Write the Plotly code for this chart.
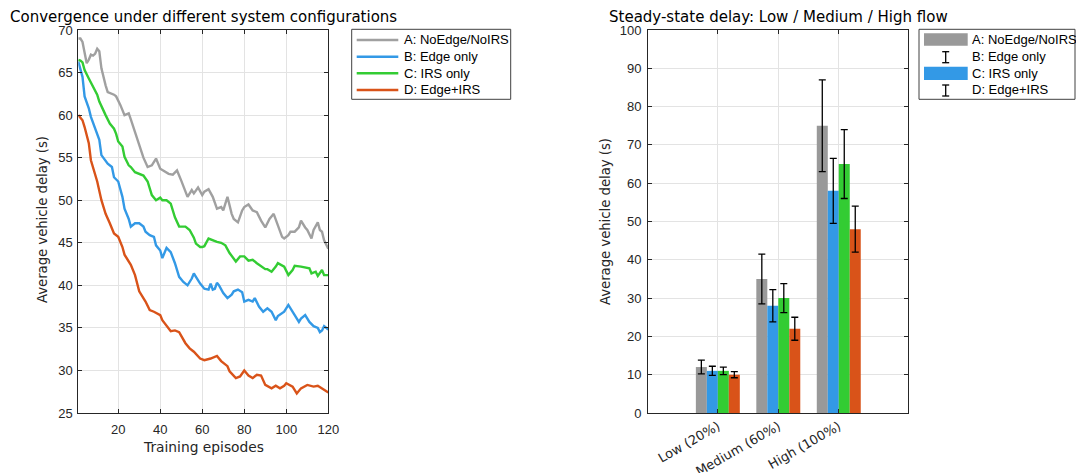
import plotly.graph_objects as go

W, H = 1076, 473

# ---------------- data: convergence curves ----------------
ep_A = [1,2,3,4,5,6,7,8,9,10,11,12,13,14,15,16,18,19,21,23,25,26,28,30,32,34,36,38,40,42,44,46,48,50,52,53,55,56,58,60,61,63,65,67,69,70,72,74,75,77,79,80,82,84,86,88,90,92,94,96,98,99,101,102,104,106,107,109,110,112,113,115,116,117,118,120]
val_A = [69.0,69.0,68.6,67.2,66.1,66.5,67.1,67.0,67.2,67.8,67.5,65.5,64.3,63.5,62.7,62.6,62.4,62.2,61.2,60.0,60.2,59.5,58.1,56.5,55.0,53.9,54.1,54.9,53.7,53.4,53.1,53.0,53.5,52.3,51.0,50.4,51.2,50.8,51.5,50.6,51.0,51.3,50.4,49.0,49.2,48.8,50.4,48.4,47.8,47.4,48.8,49.2,49.5,48.8,48.6,47.6,46.8,47.8,48.4,47.0,45.7,45.5,45.9,46.3,46.3,46.8,47.6,46.8,46.5,45.5,46.5,47.4,46.5,46.3,45.3,44.3]

ep_B = [1,2,3,4,5,6,7,9,11,12,14,15,17,18,20,22,23,25,26,28,30,32,33,35,37,38,40,41,43,45,47,49,51,53,55,56,57,59,61,63,64,65,66,67,68,70,72,74,75,77,79,80,82,84,85,87,89,91,93,95,96,98,99,101,103,104,106,107,109,111,113,115,116,117,118,120]
val_B = [66.3,65.5,64.5,62.2,61.5,60.8,59.8,58.4,57.1,55.3,54.7,54.3,53.9,52.7,52.2,50.4,49.0,47.8,46.9,47.3,47.3,46.9,46.3,45.9,45.7,44.7,44.1,43.2,44.4,43.9,42.6,41.0,40.4,40.0,40.8,41.4,41.0,40.2,39.6,39.5,40.2,39.5,39.6,40.3,40.0,39.1,38.5,38.9,39.3,39.5,39.2,38.1,38.3,38.1,38.5,37.5,36.9,37.3,36.9,35.9,36.4,36.7,36.9,37.7,36.8,36.5,35.7,36.1,36.5,35.7,35.2,35.0,34.5,34.7,35.2,34.8]

ep_C = [1,2,3,4,6,8,10,11,12,14,16,18,19,20,22,23,25,26,28,30,32,34,36,38,40,41,43,45,47,49,52,54,56,57,59,60,61,63,65,67,69,71,73,75,76,78,80,82,84,86,88,90,91,93,95,96,99,101,103,104,107,109,111,112,114,115,117,118,120]
val_C = [66.5,66.4,66.2,65.3,64.3,63.3,62.4,61.6,61.0,60.0,59.0,58.4,57.8,56.9,56.3,55.1,54.1,53.9,53.3,53.1,52.9,52.2,50.6,50.0,50.3,50.0,50.0,49.6,48.0,46.9,46.9,46.5,45.6,44.9,44.5,44.5,44.6,45.5,45.3,45.1,45.0,44.7,43.8,43.2,42.8,43.4,43.4,42.9,43.0,42.6,42.2,41.9,41.9,41.6,42.2,42.6,42.2,41.2,41.8,42.3,42.2,42.1,42.0,41.4,41.6,41.1,41.8,41.2,41.2]

ep_D = [1,3,4,6,7,10,12,14,16,18,20,22,23,26,28,30,33,35,37,40,41,43,45,47,49,52,54,56,59,61,64,67,69,72,73,76,78,80,82,84,86,88,90,93,95,97,99,100,103,105,107,110,113,115,118,120]
val_D = [60.0,59.4,58.6,56.7,54.7,52.2,50.0,48.4,47.3,46.1,45.7,44.5,43.6,42.4,41.2,39.3,38.1,37.1,36.9,36.5,35.9,35.2,34.6,34.7,34.5,33.2,32.6,32.2,31.4,31.2,31.4,31.7,31.1,30.5,29.9,29.1,29.3,30.0,29.4,29.1,29.5,29.4,28.3,27.9,28.2,27.9,28.2,28.5,28.1,27.3,27.9,28.3,28.1,28.2,27.7,27.4]

series_names = ["A: NoEdge/NoIRS", "B: Edge only", "C: IRS only", "D: Edge+IRS"]
line_colors = ["#a0a0a0", "#3399e6", "#33cc33", "#d95319"]
bar_colors = ["#999999", "#3399e6", "#33cc33", "#d95319"]

# ---------------- data: steady-state bars ----------------
flow_pos = [1, 2, 3]
flow_labels = ["Low (20%)", "Medium (60%)", "High (100%)"]
bar_A = [12, 35, 75]
bar_B = [11, 28, 58]
bar_C = [11, 30, 65]
bar_D = [10, 22, 48]
err_A = [1.8, 6.5, 12]
err_B = [1.2, 4.2, 8.5]
err_C = [1.0, 3.8, 9]
err_D = [0.8, 3.0, 6]

TXT = "#262626"
FONT = "Liberation Sans, Arial, sans-serif"
WIDE = "DejaVu Sans, sans-serif"

def px(x):
    return x / W

def py(y):
    return 1 - y / H

fig = go.Figure()

for ep, val, name, col in zip([ep_A, ep_B, ep_C, ep_D], [val_A, val_B, val_C, val_D], series_names, line_colors):
    fig.add_trace(go.Scatter(x=ep, y=val, mode="lines", name=name,
                             line=dict(color=col, width=2.4), xaxis="x", yaxis="y",
                             showlegend=False))

for vals, errs, name, col in zip([bar_A, bar_B, bar_C, bar_D], [err_A, err_B, err_C, err_D], series_names, bar_colors):
    fig.add_trace(go.Bar(x=flow_pos, y=vals, name=name, marker=dict(color=col, line=dict(width=0)),
                         error_y=dict(type="data", array=errs, visible=True, color="#000000",
                                      thickness=1.3, width=3.5),
                         xaxis="x2", yaxis="y2", showlegend=False))

axis_common = dict(showline=True, linecolor=TXT, linewidth=1, mirror="ticks",
                   ticks="inside", ticklen=4, tickcolor=TXT, showgrid=True,
                   gridcolor="#e3e3e3", gridwidth=1, zeroline=False)
num_font = dict(family=FONT, size=13, color=TXT)

ydom = [py(413), py(30)]
fig.update_layout(
    width=W, height=H, autosize=False, margin=dict(l=0, r=0, t=0, b=0, autoexpand=False),
    paper_bgcolor="white", plot_bgcolor="white",
    font=dict(family=FONT, color=TXT),
    barmode="group", bargap=0.273, bargroupgap=0,
    xaxis=dict(domain=[px(78.3), px(328.3)], range=[1, 120], tickvals=[20, 40, 60, 80, 100, 120],
               anchor="y", ticklabelstandoff=4, tickfont=num_font, **axis_common),
    yaxis=dict(domain=ydom, range=[25, 70], tickvals=[25, 30, 35, 40, 45, 50, 55, 60, 65, 70],
               anchor="x", ticklabelstandoff=2, tickfont=num_font, **axis_common),
    xaxis2=dict(domain=[px(648), px(908)], range=[-0.155, 4.145], tickvals=flow_pos,
                ticktext=flow_labels, tickangle=-30, anchor="y2",
                tickfont=dict(family=WIDE, size=13, color=TXT), **axis_common),
    yaxis2=dict(domain=ydom, range=[0, 100], tickvals=list(range(0, 101, 10)),
                anchor="x2", ticklabelstandoff=3, tickfont=num_font, **axis_common),
)

ann = []
# titles
ann.append(dict(text="Convergence under different system configurations", x=px(203), y=py(17),
                xref="paper", yref="paper", showarrow=False, xanchor="center", yanchor="middle",
                font=dict(family=WIDE, size=15, color="#000000")))
ann.append(dict(text="Steady-state delay: Low / Medium / High flow", x=px(778), y=py(17),
                xref="paper", yref="paper", showarrow=False, xanchor="center", yanchor="middle",
                font=dict(family=WIDE, size=15, color="#000000")))
# axis titles
ann.append(dict(text="Training episodes", x=px(203), y=py(447), xref="paper", yref="paper",
                showarrow=False, xanchor="center", yanchor="middle",
                font=dict(family=WIDE, size=13.8, color=TXT)))
ann.append(dict(text="Average vehicle delay (s)", x=px(43), y=py(220), xref="paper", yref="paper",
                showarrow=False, xanchor="center", yanchor="middle", textangle=-90,
                font=dict(family=WIDE, size=13.2, color=TXT)))
ann.append(dict(text="Average vehicle delay (s)", x=px(605), y=py(222), xref="paper", yref="paper",
                showarrow=False, xanchor="center", yanchor="middle", textangle=-90,
                font=dict(family=WIDE, size=13.2, color=TXT)))

shapes = []
row_y = [40, 56.7, 73.3, 90]
# left legend
shapes.append(dict(type="rect", xref="paper", yref="paper", x0=px(351.7), x1=px(510.7),
                   y0=py(99.3), y1=py(29.3), line=dict(color="#404040", width=1), fillcolor="white"))
for ry, col, name in zip(row_y, line_colors, series_names):
    shapes.append(dict(type="line", xref="paper", yref="paper", x0=px(356.7), x1=px(398.3),
                       y0=py(ry), y1=py(ry), line=dict(color=col, width=2.4)))
    ann.append(dict(text=name, x=px(402), y=py(ry), xref="paper", yref="paper", showarrow=False,
                    xanchor="left", yanchor="middle", font=dict(family=FONT, size=13, color="#000000")))

# right legend (mimics the reference: bar, errorbar, bar, errorbar)
shapes.append(dict(type="rect", xref="paper", yref="paper", x0=px(919), x1=px(1075),
                   y0=py(99.3), y1=py(29.3), line=dict(color="#404040", width=1), fillcolor="white"))
shapes.append(dict(type="rect", xref="paper", yref="paper", x0=px(924), x1=px(967.7),
                   y0=py(45.7), y1=py(33.3), line=dict(width=0), fillcolor=bar_colors[0]))
shapes.append(dict(type="rect", xref="paper", yref="paper", x0=px(924), x1=px(967.7),
                   y0=py(80), y1=py(66.7), line=dict(width=0), fillcolor=bar_colors[1]))
for top, bot in [(51.7, 62.7), (85, 96)]:
    cx = 945.7
    shapes.append(dict(type="line", xref="paper", yref="paper", x0=px(cx), x1=px(cx),
                       y0=py(top), y1=py(bot), line=dict(color="#000000", width=1.3)))
    for yy in (top, bot):
        shapes.append(dict(type="line", xref="paper", yref="paper", x0=px(cx - 3.5), x1=px(cx + 3.5),
                           y0=py(yy), y1=py(yy), line=dict(color="#000000", width=1.3)))
for ry, name in zip(row_y, series_names):
    ann.append(dict(text=name, x=px(970), y=py(ry), xref="paper", yref="paper", showarrow=False,
                    xanchor="left", yanchor="middle", font=dict(family=FONT, size=13, color="#000000")))

fig.update_layout(annotations=ann, shapes=shapes)
fig.write_html("out.html",
               config={"responsive": False, "displayModeBar": False},
               default_width="1076px", default_height="473px",
               post_script="document.body.style.margin='0';document.body.style.padding='0';"
                           "document.documentElement.style.overflow='hidden';")
